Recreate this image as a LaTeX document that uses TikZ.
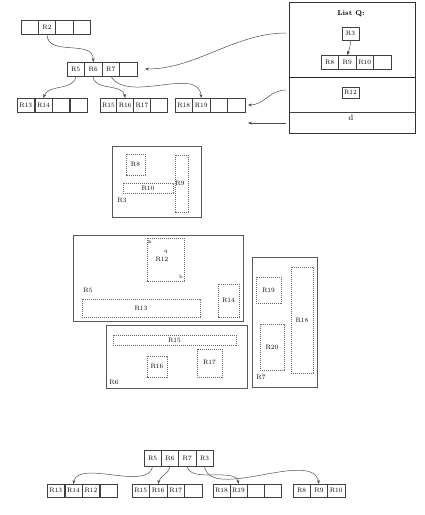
\documentclass[tikz,border=0pt]{standalone}
\usepackage{tikz}
\usetikzlibrary{arrows.meta, positioning, calc}

\begin{document}
\begin{tikzpicture}[
    x=1pt, y=-1pt,
    cell/.style={rectangle, draw=black!75, fill=white, minimum width=17.3pt, minimum height=14pt, inner sep=0pt, outer sep=0pt, font=\fontsize{6.5}{6.5}\selectfont},
    small/.style={rectangle, draw=black!75, minimum width=17pt, minimum height=#1, inner sep=0pt, font=\fontsize{6.5}{6.5}\selectfont},
    region/.style={draw=black!65, line width=0.6pt},
    mbr/.style={draw=black!60, dash pattern=on 1.2pt off 0.8pt, line width=0.5pt},
    lbl/.style={inner sep=0pt, font=\fontsize{6.5}{6.5}\selectfont},
    ptr/.style={-{Stealth[length=4pt, width=3pt]}, black!70, line width=0.5pt}
]
\useasboundingbox (0,0) rectangle (424,515);

% Top tree
\foreach \lab [count=\i] in {{},R2,{},{}}
    \node[cell] (top\i) at ({21+17.3*(\i-0.5)}, 27) {\lab};
\foreach \lab [count=\i] in {R5,R6,R7,{}}
    \node[cell, line width=0.6pt] (mid\i) at ({67+17.5*(\i-0.5)}, 69) {\lab};
\foreach \lab [count=\i] in {R13,R14,{},{}}
    \node[cell] (la\i) at ({17+17.6*(\i-0.5)}, 105) {\lab};
\foreach \lab [count=\i] in {R15,R16,R17,{}}
    \node[cell] (lb\i) at ({100+16.8*(\i-0.5)}, 105) {\lab};
\foreach \lab [count=\i] in {R18,R19,{},{}}
    \node[cell] (lc\i) at ({175+17.5*(\i-0.5)}, 105) {\lab};

\draw[ptr] (top2.south) to[out=-90, in=90, looseness=1.1] (mid2.north);
\draw[ptr] (mid1.south) to[out=-95, in=70] (la2.north);
\draw[ptr] (mid2.south) to[out=-90, in=100] (lb2.north);
\draw[ptr] (mid3.south) to[out=-60, in=95, looseness=0.9] (lc2.north);

% List Q
\node[rectangle, draw=black!80, minimum width=126pt, minimum height=131pt, inner sep=0pt] (listq) at (352,67.5) {};
\draw[black!85, line width=1pt] (listq.west |- 0,77) coordinate (dl) -- (listq.east |- dl);
\draw[black!75] (listq.west |- 0,112) coordinate (dm) -- (listq.east |- dm);
\node[font=\fontsize{7}{7}\selectfont\bfseries] (qtitle) at (351,14) {List Q:};
\node[small=13pt] (q3) at (350.5,33.5) {R3};
\foreach \lab [count=\i] in {R8,R9,R10,{}}
    \node[cell] (qa\i) at ({321+17.5*(\i-0.5)}, 62) {\lab};
\draw[ptr] (q3.south) to[out=-90, in=70] (qa2.north);
\node[small=11pt] (q12) at (350.5,92.5) {R12};
\node[font=\fontsize{8}{8}\selectfont] (qd) at (351,118) {d};

\coordinate (p1) at (286,33);
\coordinate (p2) at (286,90);
\coordinate (p3) at (286,123);
\draw[ptr] (p1) to[out=180, in=0, looseness=0.9] ([xshift=8pt]mid4.east);
\draw[ptr] (p2) to[out=180, in=0] ([xshift=3pt]lc4.east);
\draw[ptr] (p3) -- ([xshift=3pt]lc4.east |- p3);

% Region R3
\draw[region] (112,146) rectangle (201,217);
\draw[mbr] (126,154) rectangle (145,175);
\draw[mbr] (123,183) rectangle (173,193);
\draw[mbr] (175,155) rectangle (188,212);
\node[lbl] (tr8) at (135.5,164.5) {R8};
\node[lbl] (tr10) at (148,188) {R10};
\node[lbl] (tr9) at (180,183) {R9};
\node[lbl] (tr3) at (122,200) {R3};

% Region R5
\draw[region] (73,235) rectangle (243,321);
\draw[mbr] (147,238) rectangle (184,281);
\draw[mbr] (82,299) rectangle (200,317);
\draw[mbr] (218,284) rectangle (239,317);
\node[lbl] (tr12) at (162,259) {R12};
\node[lbl] (ta) at (149.5,242) {a};
\node[lbl, font=\fontsize{5}{5}\selectfont] (tq) at (166,252) {q};
\node[lbl, font=\fontsize{5}{5}\selectfont] (tb) at (181,277) {b};
\node[lbl] (tr13) at (141,308) {R13};
\node[lbl] (tr14) at (228.5,300.5) {R14};
\node[lbl] (tr5) at (88,290) {R5};

% Region R6
\draw[region] (106,325) rectangle (247,388);
\draw[mbr] (113,335) rectangle (236,345);
\draw[mbr] (147,356) rectangle (167,377);
\draw[mbr] (197,349) rectangle (222,377);
\node[lbl] (tr15) at (174.5,340) {R15};
\node[lbl] (tr16) at (157,366.5) {R16};
\node[lbl] (tr17) at (209.5,362) {R17};
\node[lbl] (tr6) at (114,382) {R6};

% Region R7
\draw[region] (252,257) rectangle (317,387);
\draw[mbr] (256,277) rectangle (281,303);
\draw[mbr] (291,267) rectangle (313,373);
\draw[mbr] (260,324) rectangle (284,370);
\node[lbl] (tr19) at (268.5,290) {R19};
\node[lbl] (tr18) at (302,320) {R18};
\node[lbl] (tr20) at (272,347) {R20};
\node[lbl] (tr7) at (261,377) {R7};

% Bottom tree
\foreach \lab [count=\i] in {R5,R6,R7,R3}
    \node[cell, minimum height=16pt] (root\i) at ({144+17.3*(\i-0.5)}, 458.5) {\lab};
\foreach \lab [count=\i] in {R13,R14,R12,{}}
    \node[cell, minimum height=13pt] (ba\i) at ({47+17.6*(\i-0.5)}, 490.5) {\lab};
\foreach \lab [count=\i] in {R15,R16,R17,{}}
    \node[cell, minimum height=13pt] (bb\i) at ({132+17.5*(\i-0.5)}, 490.5) {\lab};
\foreach \lab [count=\i] in {R18,R19,{},{}}
    \node[cell, minimum height=13pt] (bc\i) at ({213+17*(\i-0.5)}, 490.5) {\lab};
\foreach \lab [count=\i] in {R8,R9,R10}
    \node[cell, minimum height=13pt] (bd\i) at ({293+17.3*(\i-0.5)}, 490.5) {\lab};

\draw[ptr] (root1.south) to[out=-100, in=80, looseness=0.8] (ba2.north);
\draw[ptr] (root2.south) to[out=-100, in=80] (bb2.north);
\draw[ptr] (root3.south) to[out=-80, in=100, looseness=0.8] (bc2.north);
\draw[ptr] (root4.south) to[out=-80, in=100, looseness=0.8] (bd2.north);

\end{tikzpicture}
\end{document}
